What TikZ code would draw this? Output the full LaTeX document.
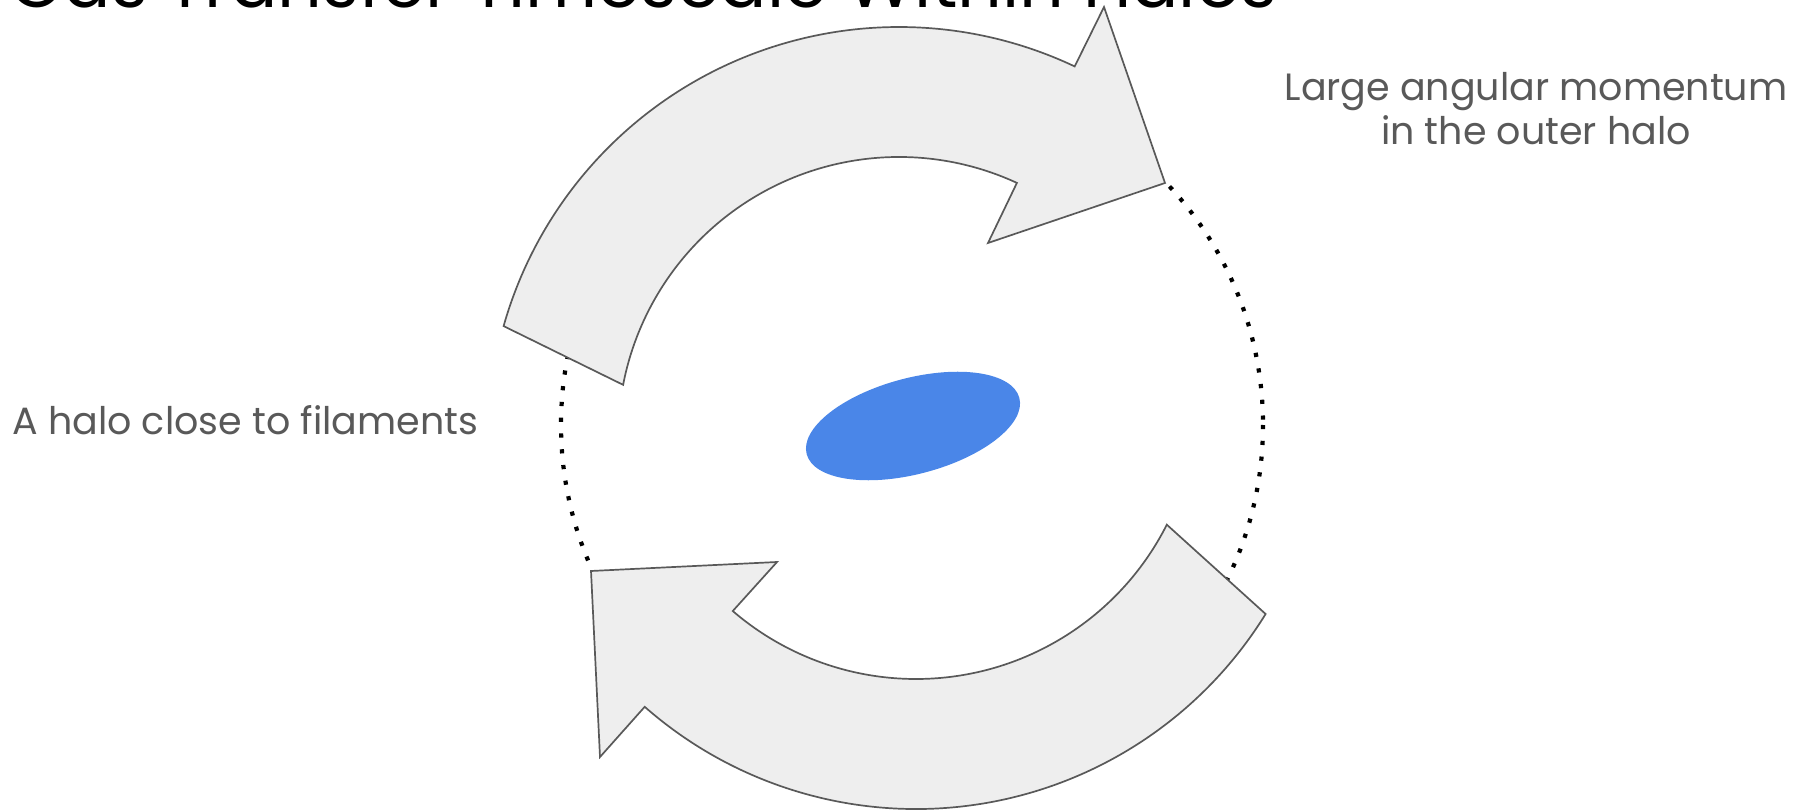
\documentclass[tikz,border=0pt]{standalone}
\usepackage{fontspec}
\setmainfont{Poppins}
\definecolor{arrowfill}{HTML}{EEEEEE}
\definecolor{arrowline}{HTML}{595959}
\definecolor{labelgray}{HTML}{595959}
\definecolor{diskblue}{HTML}{4A86E8}
\begin{document}
\begin{tikzpicture}[x=0.5pt, y=-0.5pt,
  flowarrow/.style={fill=arrowfill, draw=arrowline, line width=0.85pt, line join=miter},
  orbit/.style={draw=black, line width=2.1pt, dash pattern=on 2.1pt off 5.8pt},
  lbl/.style={text=labelgray, font=\fontsize{19pt}{22pt}\selectfont, inner sep=0pt}]
\useasboundingbox (0,0) rectangle (1798,812);
\clip (0,0) rectangle (1798,812);
% title, cut off at the top
\node[anchor=base west, inner sep=0pt, font=\fontsize{35pt}{40pt}\selectfont] (title) at (9,8) {Gas Transfer Timescale Within Halos};
% dotted halo
\draw[orbit] (912,425) circle[radius=351];
% upper arrow
\draw[flowarrow] (503.6,326.1) arc[start angle=195.8, end angle=295.3, radius=411]
  -- (1104,7) -- (1165,183) -- (988,243) -- (1016.9,182.9)
  arc[start angle=294.8, end angle=190.9, radius=281] -- cycle;
% lower arrow
\draw[flowarrow] (1166.8,524.7) arc[start angle=26.8, end angle=130.7, radius=281]
  -- (777,562) -- (591,571) -- (600,757) -- (644.7,706.8)
  arc[start angle=131.3, end angle=31.7, radius=411] -- cycle;
% galaxy disk
\fill[diskblue, rotate around={14.8:(913,426)}] (913,426) ellipse[x radius=110, y radius=48];
% labels
\node[lbl, anchor=base] (outer1) at (1536,101) {Large angular momentum};
\node[lbl, anchor=base] (outer2) at (1536,145) {in the outer halo};
\node[lbl, anchor=base west] (filament) at (12,435) {A halo close to filaments};
\end{tikzpicture}
\end{document}
